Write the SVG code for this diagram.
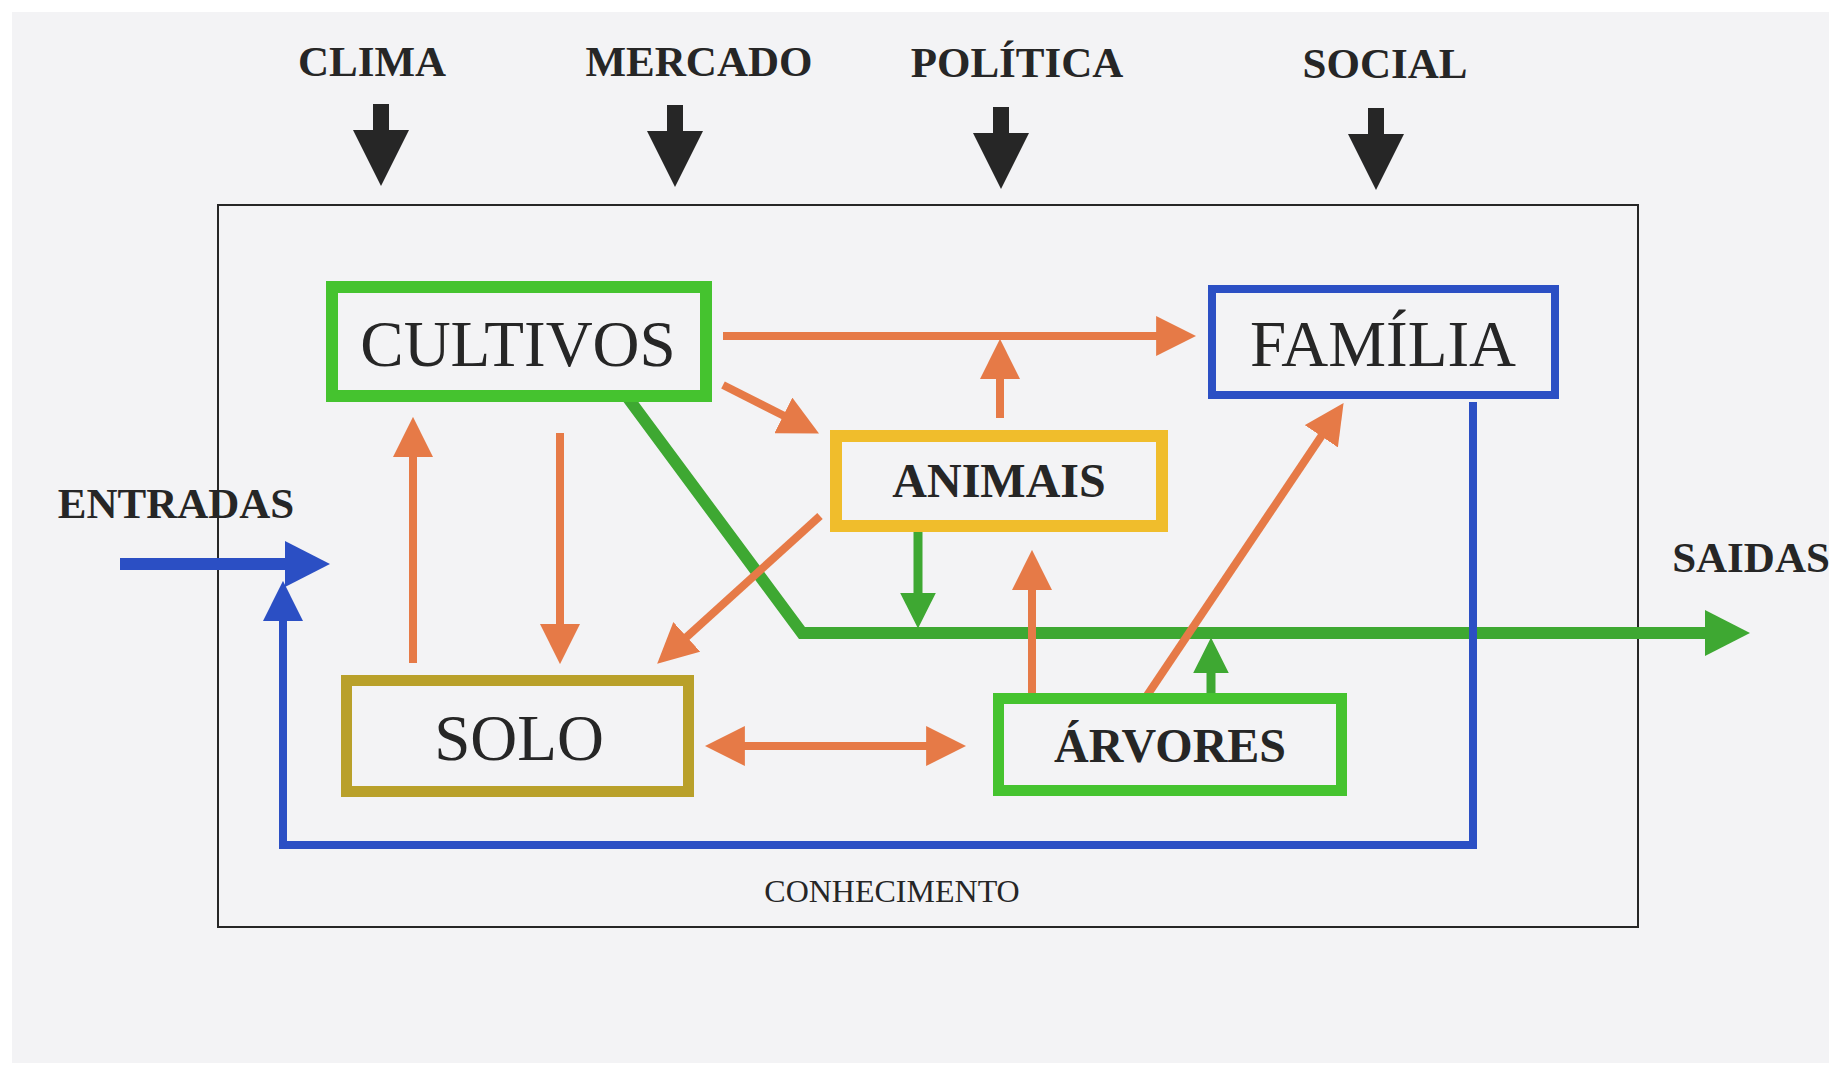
<svg xmlns="http://www.w3.org/2000/svg" width="1829" height="1065" viewBox="0 0 1829 1065">
<style>
.t{font-family:"Liberation Serif","Times New Roman",serif;fill:#262626;text-anchor:middle}
.b{font-weight:bold}
.box{fill:none}
.or{stroke:#e67a47;stroke-width:8;fill:none}
.gr{stroke:#3ea832;fill:none}
.bl{stroke:#2b4fc4;fill:none}
</style>
<defs>
<marker id="oa" markerUnits="userSpaceOnUse" markerWidth="40" markerHeight="40" refX="26" refY="18" orient="auto-start-reverse" viewBox="0 0 36 36"><path d="M0,0 L36,18 L0,36 Z" fill="#e67a47"/></marker>
<marker id="gb" markerUnits="userSpaceOnUse" markerWidth="46" markerHeight="46" refX="31" refY="23" orient="auto" viewBox="0 0 45 46"><path d="M0,0 L45,23 L0,46 Z" fill="#3ea832"/></marker>
<marker id="gs" markerUnits="userSpaceOnUse" markerWidth="36" markerHeight="36" refX="24" refY="17" orient="auto" viewBox="0 0 34 34"><path d="M0,0 L34,17 L0,34 Z" fill="#3ea832"/></marker>
<marker id="bb" markerUnits="userSpaceOnUse" markerWidth="46" markerHeight="46" refX="31" refY="23" orient="auto" viewBox="0 0 45 46"><path d="M0,0 L45,23 L0,46 Z" fill="#2b4fc4"/></marker>
<marker id="bs" markerUnits="userSpaceOnUse" markerWidth="40" markerHeight="40" refX="26" refY="18" orient="auto" viewBox="0 0 36 36"><path d="M0,0 L36,18 L0,36 Z" fill="#2b4fc4"/></marker>
<path id="blk" d="M-8,0 H8 V26 H28 L0,82 L-28,26 H-8 Z" fill="#262626"/>
</defs>
<rect x="0" y="0" width="1829" height="1065" fill="#ffffff"/>
<rect x="12" y="12" width="1817" height="1051" fill="#f3f3f5"/>
<g id="system-boundary">
<rect x="218" y="205" width="1420" height="722" fill="none" stroke="#262626" stroke-width="2"/>
<text class="t" x="892" y="902" font-size="32">CONHECIMENTO</text>
</g>
<g id="external-factors">
<text class="t b" x="372" y="76" font-size="43">CLIMA</text>
<text class="t b" x="699" y="76" font-size="43">MERCADO</text>
<text class="t b" x="1017" y="77" font-size="43">POLÍTICA</text>
<text class="t b" x="1385" y="78" font-size="43">SOCIAL</text>
<use href="#blk" x="381" y="104"/>
<use href="#blk" x="675" y="105"/>
<use href="#blk" x="1001" y="107"/>
<use href="#blk" x="1376" y="108"/>
</g>
<g id="connectors">
<path class="gr" stroke-width="12" d="M628,398 L802,633 L1736,633" marker-end="url(#gb)"/>
<path class="gr" stroke-width="9" d="M918,532 V618" marker-end="url(#gs)"/>
<path class="gr" stroke-width="9" d="M1211,693 V648" marker-end="url(#gs)"/>
<path class="bl" stroke-width="12" d="M120,564 H316" marker-end="url(#bb)"/>
<path class="bl" stroke-width="8" d="M1473,402 V845 H283 V592" marker-end="url(#bs)"/>
<path class="or" d="M723,336 H1185" marker-end="url(#oa)"/>
<path class="or" d="M1000,418 V350" marker-end="url(#oa)"/>
<path class="or" d="M723,385 L809.1,428.5" marker-end="url(#oa)"/>
<path class="or" d="M413,663 V428" marker-end="url(#oa)"/>
<path class="or" d="M560,433 V653" marker-end="url(#oa)"/>
<path class="or" d="M820,516 L665.4,656.3" marker-end="url(#oa)"/>
<path class="or" d="M716,746 H955" marker-start="url(#oa)" marker-end="url(#oa)"/>
<path class="or" d="M1032,699 V561" marker-end="url(#oa)"/>
<path class="or" d="M1146,697 L1337.4,412.3" marker-end="url(#oa)"/>
</g>
<g id="entradas">
<text class="t b" x="176" y="518" font-size="43">ENTRADAS</text>
</g>
<g id="saidas">
<text class="t b" x="1751" y="572" font-size="43">SAIDAS</text>
</g>
<g id="cultivos">
<rect class="box" x="332" y="287" width="374" height="109" stroke="#45c32f" stroke-width="12"/>
<text class="t" x="518" y="366" font-size="65">CULTIVOS</text>
</g>
<g id="familia">
<rect class="box" x="1212" y="289" width="343" height="106" stroke="#2b4fc4" stroke-width="8"/>
<text class="t" x="1383" y="366" font-size="65">FAMÍLIA</text>
</g>
<g id="animais">
<rect class="box" x="836" y="436" width="326" height="90" stroke="#f0bd2c" stroke-width="12"/>
<text class="t b" x="999" y="497" font-size="48">ANIMAIS</text>
</g>
<g id="solo">
<rect class="box" x="346.5" y="680.5" width="342" height="111" stroke="#b9a02a" stroke-width="11"/>
<text class="t" x="519" y="760" font-size="65">SOLO</text>
</g>
<g id="arvores">
<rect class="box" x="998.5" y="698.5" width="343" height="92" stroke="#45c32f" stroke-width="11"/>
<text class="t b" x="1170" y="762" font-size="48">ÁRVORES</text>
</g>
</svg>
